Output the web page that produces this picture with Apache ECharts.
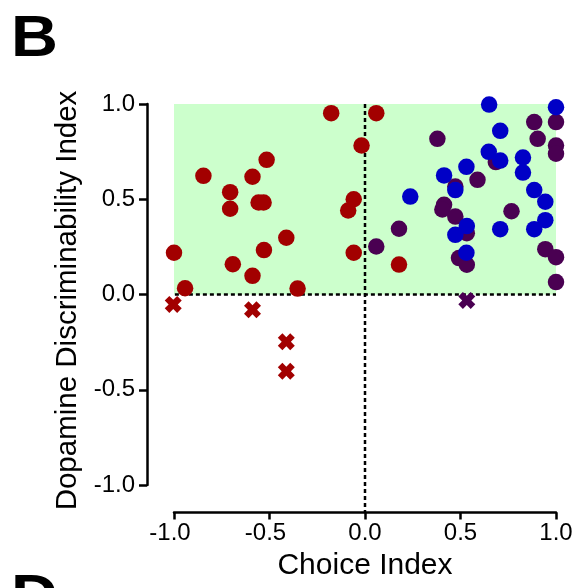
<!DOCTYPE html>
<html>
<head>
<meta charset="utf-8">
<script src="https://cdn.jsdelivr.net/npm/echarts@6/dist/echarts.min.js"></script>
<style>
html,body{margin:0;padding:0;background:#fff;}
#c{width:582px;height:588px;}
</style>
</head>
<body>
<div id="c"></div>
<script>
// ---- data ----
var xTicks = [-1.0, -0.5, 0.0, 0.5, 1.0];
var yTicks = [-1.0, -0.5, 0.0, 0.5, 1.0];
var redCircles = [
  [-0.177, 0.952], [0.059, 0.952], [-0.018, 0.782], [-0.515, 0.707], [-0.846, 0.623],
  [-0.589, 0.618], [-0.706, 0.537], [-0.557, 0.483], [-0.531, 0.483], [-0.706, 0.450],
  [-0.059, 0.500], [-0.088, 0.441], [-0.412, 0.298], [-1.000, 0.219], [-0.529, 0.233],
  [-0.059, 0.219], [-0.692, 0.159], [-0.589, 0.098], [-0.942, 0.033], [-0.353, 0.031],
  [0.178, 0.157]
];
var purpleCircles = [
  [0.886, 0.905], [1.000, 0.905], [0.379, 0.817], [0.904, 0.817], [1.000, 0.782],
  [1.000, 0.739], [0.685, 0.695], [0.589, 0.602], [0.473, 0.567], [0.414, 0.471],
  [0.405, 0.446], [0.473, 0.409], [0.767, 0.437], [0.533, 0.322], [0.178, 0.345],
  [0.059, 0.252], [0.492, 0.191], [0.533, 0.156], [0.944, 0.238], [1.000, 0.196],
  [1.000, 0.065]
];
var blueCircles = [
  [0.650, 0.997], [1.000, 0.983], [0.708, 0.859], [0.648, 0.749], [0.708, 0.703],
  [0.827, 0.719], [0.531, 0.670], [0.414, 0.625], [0.827, 0.640], [0.473, 0.548],
  [0.886, 0.548], [0.237, 0.514], [0.944, 0.487], [0.944, 0.390], [0.886, 0.343],
  [0.708, 0.343], [0.533, 0.359], [0.473, 0.313], [0.531, 0.219]
];
var redCrosses = [[-1.004, -0.052], [-0.589, -0.080], [-0.412, -0.248], [-0.412, -0.403]];
var purpleCrosses = [[0.533, -0.031]];
// reference lines (extend to the detached axis lines)
var refLineH = [[-1.142, 0], [1, 0]];
var refLineV = [[0, 1], [0, -1.144]];
// shaded region
var shadeFrom = [-1, 0], shadeTo = [1, 1];

var RED = '#a20000', PURPLE = '#4a0052', BLUE = '#0000c6', GREEN = '#ccffcc';
var FONT = 'Liberation Sans, Arial, sans-serif';
var crossPath = 'path://M2.7,0 L5,2.3 L7.3,0 L10,2.7 L7.7,5 L10,7.3 L7.3,10 L5,7.7 L2.7,10 L0,7.3 L2.3,5 L0,2.7 Z';

function fmtY(v){ return v.toFixed(1); }
// x labels: the unsigned number is centred on the tick, the minus sign hangs to the left
function fmtX(v){
  var s = Math.abs(v).toFixed(1);
  return v < 0 ? '-' + s + '{h|-}' : s;
}

var chart = echarts.init(document.getElementById('c'), null, {renderer:'canvas'});
chart.setOption({
  animation: false,
  backgroundColor: '#fff',
  grid: {left: 174, right: 26, top: 104, bottom: 103},
  xAxis: {
    type: 'value', min: xTicks[0], max: xTicks[xTicks.length-1], interval: 0.5,
    offset: 27.5,
    axisLine: {onZero: false, lineStyle: {color: '#000', width: 2.5}},
    axisTick: {length: 7, lineStyle: {color: '#000', width: 2.5}},
    axisLabel: {formatter: fmtX, color: '#000', fontSize: 24, fontFamily: FONT, margin: 9,
      rich: {h: {color: 'rgba(0,0,0,0)', fontSize: 24, fontFamily: FONT}}},
    splitLine: {show: false},
    name: 'Choice Index', nameLocation: 'middle', nameGap: 36,
    nameTextStyle: {color: '#000', fontSize: 30, fontFamily: FONT}
  },
  yAxis: {
    type: 'value', min: yTicks[0], max: yTicks[yTicks.length-1], interval: 0.5,
    offset: 27,
    axisLine: {onZero: false, lineStyle: {color: '#000', width: 2.5}},
    axisTick: {length: 8, lineStyle: {color: '#000', width: 2.5}},
    axisLabel: {formatter: fmtY, color: '#000', fontSize: 24, fontFamily: FONT, margin: 12},
    splitLine: {show: false},
    name: 'Dopamine Discriminability Index', nameLocation: 'middle', nameGap: 64, nameRotate: 90,
    nameTextStyle: {color: '#000', fontSize: 29.5, fontFamily: FONT, padding: [0, 12, 0, 0]}
  },
  graphic: [
    {type: 'text', left: 11, top: 11, scaleX: 1.12, style: {text: 'B', fontSize: 58, fontWeight: 'bold', fontFamily: FONT, fill: '#000'}},
    {type: 'text', left: 11, top: 570, scaleX: 1.12, style: {text: 'D', fontSize: 58, fontWeight: 'bold', fontFamily: FONT, fill: '#000'}}
  ],
  series: [
    {type: 'line', data: [], z: 0, silent: true,
     markArea: {silent: true, itemStyle: {color: GREEN}, data: [[{coord: shadeFrom}, {coord: shadeTo}]]}},
    {type: 'line', data: refLineH, z: 1, symbol: 'none', clip: false, silent: true,
     lineStyle: {color: '#000', width: 2.5, type: [4, 3]}},
    {type: 'line', data: refLineV, z: 1, symbol: 'none', clip: false, silent: true,
     lineStyle: {color: '#000', width: 2.5, type: [4, 3]}},
    {type: 'scatter', data: redCircles, z: 3, clip: false, symbol: 'circle', symbolSize: 16.5, itemStyle: {color: RED, opacity: 1}},
    {type: 'scatter', data: purpleCircles, z: 4, clip: false, symbol: 'circle', symbolSize: 16.5, itemStyle: {color: PURPLE, opacity: 1}},
    {type: 'scatter', data: blueCircles, z: 5, clip: false, symbol: 'circle', symbolSize: 16.5, itemStyle: {color: BLUE, opacity: 1}},
    {type: 'scatter', data: redCrosses, z: 6, clip: false, symbol: crossPath, symbolSize: 17, itemStyle: {color: RED, opacity: 1}},
    {type: 'scatter', data: purpleCrosses, z: 6, clip: false, symbol: crossPath, symbolSize: 17, itemStyle: {color: PURPLE, opacity: 1}}
  ]
});
</script>
</body>
</html>
